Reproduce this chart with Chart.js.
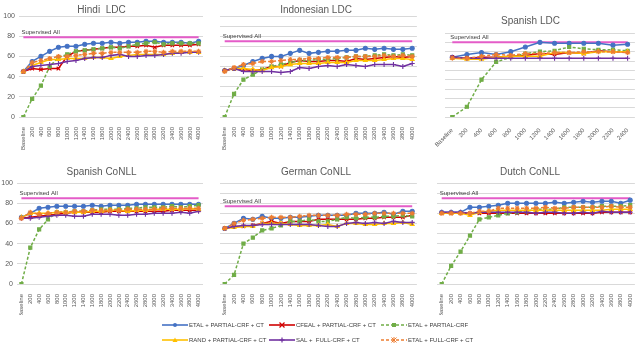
<!DOCTYPE html>
<html>
<head>
<meta charset="utf-8">
<script src="https://cdn.jsdelivr.net/npm/chart.js@4.4.1/dist/chart.umd.min.js"></script>
<style>
  html, body { margin:0; padding:0; background:#fff; }
  #wrap { position:relative; width:640px; height:353px; overflow:hidden; }
  canvas { position:absolute; }
  .lg { position:absolute; font:6px 'Liberation Sans Narrow','Liberation Sans',sans-serif; color:#404040; white-space:nowrap; line-height:10px; }
  .lg svg { vertical-align:middle; margin-right:1px; }
</style>
</head>
<body>
<div id="wrap">
  <canvas id="c1" width="210" height="160" style="left:0;top:0"></canvas>
  <canvas id="c2" width="212" height="160" style="left:210px;top:0"></canvas>
  <canvas id="c3" width="218" height="160" style="left:422px;top:0"></canvas>
  <canvas id="c4" width="210" height="165" style="left:0;top:150px"></canvas>
  <canvas id="c5" width="212" height="165" style="left:210px;top:150px"></canvas>
  <canvas id="c6" width="218" height="165" style="left:422px;top:150px"></canvas>
  <div id="legend"></div>
</div>
<script>
// categories
const cats4000 = ['Baseline','200','400','600','800','1000','1200','1400','1600','1800','2000','2200','2400','2600','2800','3000','3200','3400','3600','3800','4000'];
const cats2400 = ['Baseline','200','400','600','800','1000','1200','1400','1600','1800','2000','2200','2400'];

// Hindi LDC
const hiEtalCt   = [45,55,60,65,69,70,70,72,73,73,74,73,74,74,75,75,74,74,74,73,75];
const hiCfealCt  = [45,48,47,48,48,60,65,66,67,68,69,69,70,70,71,69,71,71,71,71,72];
const hiEtal     = [0,18,31,50,59,62,65,66,67,68,69,68,70,72,73,74,72,73,73,73,73];
const hiRandCt   = [45,51,54,57,57,58,58,58,59,59,58,60,61,62,62,62,62,63,64,64,64];
const hiSalFull  = [45,50,51,52,53,55,56,58,59,59,61,62,60,60,61,61,62,63,63,64,64];
const hiEtalFull = [45,54,56,58,60,60,61,62,63,63,64,64,64,64,65,65,64,65,65,65,65];
const hiSup = 79;

// Indonesian LDC
const idEtalCt   = [46,48,51,55,58,60,60,63,66,63,64,65,65,66,66,68,67,68,67,67,68];
const idCfealCt  = [46,48,47,46,47,50,50,54,56,55,55,56,56,55,58,57,58,59,60,59,60];
const idEtal     = [0,23,37,42,47,50,52,54,56,56,57,57,58,59,60,60,61,62,61,62,61];
const idRandCt   = [46,48,48,47,46,49,50,52,53,53,53,54,54,54,56,56,56,57,58,58,57];
const idSalFull  = [46,48,45,45,45,45,44,45,49,48,50,51,50,52,51,50,52,52,52,50,53];
const idEtalFull = [45,49,52,53,55,55,56,57,57,58,58,59,59,59,60,60,60,61,60,61,60];
const idSup = 75;

// Spanish LDC
const esEtalCt   = [64,67,69,67,70,75,80,79,79,79,79,77,78];
const esCfealCt  = [64,63,64,64,65,66,68,67,69,68,71,70,70];
const esEtal     = [0,11,40,59,64,68,70,71,75,73,72,72,71];
const esRandCt   = [63,62,62,64,65,65,65,69,69,68,70,70,70];
const esSalFull  = [64,63,63,63,63,63,63,63,63,63,63,63,63];
const esEtalFull = [63,63,65,67,66,68,68,69,69,70,70,70,69];
const esSup = 80;

// Spanish CoNLL
const scEtalCt   = [66,70,75,76,77,77,77,77,78,77,78,78,78,79,79,79,79,79,79,79,79];
const scCfealCt  = [65,66,67,68,69,70,71,71,71,71,72,72,72,72,72,72,72,73,73,73,73];
const scEtal     = [0,36,54,64,71,71,72,72,73,74,74,74,75,75,76,76,76,77,76,77,78];
const scRandCt   = [66,70,70,70,71,71,71,71,72,72,73,73,72,73,73,74,74,74,74,75,74];
const scSalFull  = [65,65,66,67,68,68,67,67,69,69,69,68,68,69,69,70,70,70,71,70,72];
const scEtalFull = [65,71,69,70,71,71,72,72,73,73,73,73,74,74,74,74,75,75,75,75,75];
const scSup = 85;

// German CoNLL
const deEtalCt   = [55,60,65,64,67,65,65,66,66,67,68,68,68,68,70,70,70,71,69,72,72];
const deCfealCt  = [55,57,57,58,60,62,60,62,62,62,64,64,64,64,64,65,65,66,66,66,68];
const deEtal     = [0,9,40,46,53,55,58,62,62,64,62,62,64,66,65,66,66,67,67,68,67];
const deRandCt   = [55,56,57,57,60,60,60,59,58,58,58,59,57,60,60,59,59,60,60,61,59];
const deSalFull  = [55,57,58,58,59,59,59,59,59,59,58,57,57,60,61,60,61,60,62,61,61];
const deEtalFull = [55,60,63,64,65,66,66,66,67,68,68,68,68,69,69,69,70,70,70,70,70];
const deSup = 77;

// Dutch CoNLL
const nlEtalCt   = [71,71,71,76,76,77,78,80,80,80,80,80,81,80,81,82,81,82,82,80,83];
const nlCfealCt  = [70,70,70,70,70,70,70,70,70,70,70,70,70,70,70,70,70,71,71,71,71];
const nlEtal     = [0,18,32,48,64,66,68,70,71,72,74,74,74,76,76,76,76,77,77,77,78];
const nlRandCt   = [70,70,70,68,71,72,73,73,73,73,73,73,73,73,73,73,73,73,74,74,74];
const nlSalFull  = [71,71,71,70,71,71,71,71,71,71,70,71,71,70,70,71,70,72,71,71,71];
const nlEtalFull = [70,70,70,70,72,72,75,75,75,75,75,76,75,75,76,76,76,76,77,76,76];
const nlSup = 85;

const FONT = "'Liberation Sans Narrow','Liberation Sans',sans-serif";
const TXT = '#595959';

// series look (legend order)
const SERIES = [
  { label:'ETAL + PARTIAL-CRF + CT',  color:'#4472c4', ps:'circle',   dash:[],    r:2 },
  { label:'CFEAL + PARTIAL-CRF + CT', color:'#d00000', ps:'crossRot', dash:[],    r:2.5 },
  { label:'ETAL + PARTIAL-CRF',       color:'#70ad47', ps:'rect',     dash:[3,2], r:2.2 },
  { label:'RAND + PARTIAL-CRF + CT',  color:'#ffc000', ps:'triangle', dash:[],    r:2.2 },
  { label:'SAL +  FULL-CRF + CT',     color:'#7030a0', ps:'cross',    dash:[],    r:2.5 },
  { label:'ETAL + FULL-CRF + CT',     color:'#ed7d31', ps:'star',     dash:[3,2], r:2.5 }
];

function buildSets(lists, sup, n){
  const sets = lists.map((d, i) => {
    const s = SERIES[i];
    return {
      label: s.label, data: d,
      borderColor: s.color, backgroundColor: s.color,
      borderWidth: 1.5, borderDash: s.dash,
      pointStyle: s.ps, pointRadius: s.r, pointBorderWidth: 1.1,
      pointBorderColor: s.color, pointBackgroundColor: s.color,
      tension: 0, order: 10 - i
    };
  });
  sets.push({
    label: 'Supervised All', data: Array(n).fill(sup), supText: 'Supervised All',
    borderColor: '#e45cc8', borderWidth: 2, pointRadius: 0, order: 20
  });
  return sets;
}

// text above the supervised line
const supLabel = {
  id: 'supLabel',
  afterDatasetsDraw(chart){
    const c = chart.ctx;
    chart.data.datasets.forEach((ds, i) => {
      if (!ds.supText) return;
      const p = chart.getDatasetMeta(i).data[0];
      c.save();
      c.font = '6px ' + FONT;
      c.fillStyle = '#404040';
      c.textAlign = 'left';
      c.textBaseline = 'bottom';
      c.fillText(ds.supText, p.x - 2, p.y - 1.5);
      c.restore();
    });
  }
};

function draw(id, title, cats, lists, sup, p){
  new Chart(document.getElementById(id), {
    type: 'line',
    data: { labels: cats, datasets: buildSets(lists, sup, cats.length) },
    plugins: [supLabel],
    options: {
      responsive: false, animation: false,
      layout: { padding: { left: p.padL, right: p.padR, top: 0, bottom: 0 } },
      plugins: {
        legend: { display: false }, tooltip: { enabled: false },
        title: { display: true, text: title, color: TXT,
                 font: { family: FONT, size: 10, weight: 'normal' },
                 padding: { top: p.tTop, bottom: p.tBot } }
      },
      scales: {
        x: {
          offset: true, grid: { display: false }, border: { display: false },
          ticks: { autoSkip: false, maxRotation: p.rot, minRotation: p.rot, padding: 2,
                   color: TXT, font: { family: FONT, size: 6 } },
          afterFit: s => { s.height = p.xH; }
        },
        y: {
          min: 0, max: p.yMax,
          grid: { color: '#d9d9d9', drawTicks: false }, border: { display: false },
          ticks: { display: p.yLab, stepSize: 10, padding: 4, color: TXT, font: { family: FONT, size: 7 } },
          afterFit: s => { s.width = p.yW; }
        }
      }
    }
  });
}

draw('c1', 'Hindi  LDC', cats4000, [hiEtalCt,hiCfealCt,hiEtal,hiRandCt,hiSalFull,hiEtalFull], hiSup,
  { padL:0, padR:7, yW:19, xH:43, tTop:4, tBot:0, rot:90, yMax:100, yLab:true });
draw('c2', 'Indonesian LDC', cats4000, [idEtalCt,idCfealCt,idEtal,idRandCt,idSalFull,idEtalFull], idSup,
  { padL:0, padR:0, yW:10, xH:43, tTop:4, tBot:0, rot:90, yMax:100, yLab:false });
draw('c3', 'Spanish LDC', cats2400, [esEtalCt,esCfealCt,esEtal,esRandCt,esSalFull,esEtalFull], esSup,
  { padL:0, padR:1, yW:23, xH:43, tTop:15, tBot:6, rot:45, yMax:90, yLab:false });
draw('c4', 'Spanish CoNLL', cats4000, [scEtalCt,scCfealCt,scEtal,scRandCt,scSalFull,scEtalFull], scSup,
  { padL:0, padR:7, yW:17, xH:31, tTop:16, tBot:5, rot:90, yMax:100, yLab:true });
draw('c5', 'German CoNLL', cats4000, [deEtalCt,deCfealCt,deEtal,deRandCt,deSalFull,deEtalFull], deSup,
  { padL:0, padR:0, yW:10, xH:31, tTop:16, tBot:5, rot:90, yMax:100, yLab:false });
draw('c6', 'Dutch CoNLL', cats4000, [nlEtalCt,nlCfealCt,nlEtal,nlRandCt,nlSalFull,nlEtalFull], nlSup,
  { padL:0, padR:2, yW:15, xH:31, tTop:16, tBot:5, rot:90, yMax:100, yLab:false });

// legend, two rows of three
function markerSvg(s){
  const c = s.color, dash = s.dash.length ? ` stroke-dasharray="${s.dash.join(',')}"` : '';
  let m = '';
  if (s.ps === 'circle') m = `<circle cx="13" cy="4" r="2" fill="${c}"/>`;
  else if (s.ps === 'rect') m = `<rect x="11" y="2" width="4" height="4" fill="${c}"/>`;
  else if (s.ps === 'triangle') m = `<polygon points="13,1.5 15.5,6 10.5,6" fill="${c}"/>`;
  else if (s.ps === 'crossRot') m = `<path d="M10.5 1.5L15.5 6.5M15.5 1.5L10.5 6.5" stroke="${c}" stroke-width="1.2"/>`;
  else if (s.ps === 'cross') m = `<path d="M13 1.5V6.5M10.5 4H15.5" stroke="${c}" stroke-width="1.2"/>`;
  else m = `<path d="M10.5 1.5L15.5 6.5M15.5 1.5L10.5 6.5M13 1V7" stroke="${c}" stroke-width="1"/>`;
  return `<svg width="26" height="8"><line x1="0" y1="4" x2="26" y2="4" stroke="${c}" stroke-width="1.6"${dash}/>${m}</svg>`;
}
const legX = [162, 269, 381];
const legY = [320, 335];
document.getElementById('legend').innerHTML = SERIES.map((s, i) =>
  `<div class="lg" style="left:${legX[i % 3]}px;top:${legY[Math.floor(i / 3)]}px">${markerSvg(s)}${s.label.replace(/ /g, '&nbsp;')}</div>`
).join('');
</script>
</body>
</html>
